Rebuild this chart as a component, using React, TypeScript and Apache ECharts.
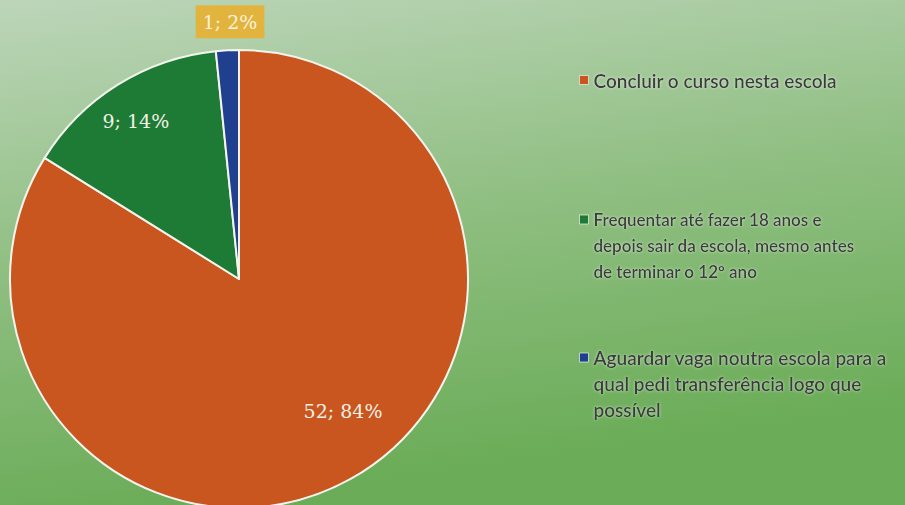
import React, { useEffect, useRef } from "react";
import * as echarts from "echarts";

const categories = [
  "Concluir o curso nesta escola",
  "Frequentar até fazer 18 anos e depois sair da escola, mesmo antes de terminar o 12º ano",
  "Aguardar vaga noutra escola para a qual pedi transferência logo que possível",
];
const legendLabels = [
  "Concluir o curso nesta escola",
  "Frequentar até fazer 18 anos e\ndepois sair da escola, mesmo antes\nde terminar o 12º ano",
  "Aguardar vaga noutra escola para a\nqual pedi transferência logo que\npossível",
];
const values = [52, 9, 1];
const colors = ["#C9551F", "#1E7B35", "#213F8F"];
const legendTops = [67, 206, 344];
const legendLines = [1, 3, 3];
const legendFontSizes = [19, 17, 19];
const labelShift = [
  [47, 29],
  [-41, -58],
  [-3, -140],
];

export default function App() {
  const ref = useRef<HTMLDivElement>(null);
  useEffect(() => {
    if (!ref.current) return;
    const chart = echarts.init(ref.current, null, { renderer: "svg" });
    const lh = 26;
    const iconFor = (lines: number) => {
      const h = lines * lh;
      const y0 = lh / 2 - 4.5;
      return `path://M0,0L0.01,0M0,${y0}H9V${y0 + 9}H0ZM0,${h}L0.01,${h}`;
    };
    chart.setOption({
      animation: false,
      backgroundColor: new echarts.graphic.LinearGradient(0, 0, 0.25, 1, [
        { offset: 0, color: "#BCD5B9" },
        { offset: 0.5, color: "#90BF82" },
        { offset: 1, color: "#6AAC57" },
      ]),
      legend: categories.map((c, i) => ({
        orient: "vertical",
        left: 579,
        top: legendTops[i],
        padding: 0,
        icon: legendLines[i] > 1 ? iconFor(legendLines[i]) : "rect",
        itemWidth: 9,
        itemHeight: legendLines[i] > 1 ? legendLines[i] * lh : 9,
        itemStyle: { borderColor: "rgba(240,245,235,0.7)", borderWidth: 1 },
        selectedMode: false,
        formatter: () => legendLabels[i],
        data: [c],
        textStyle: {
          fontFamily: "Lato",
          fontSize: legendFontSizes[i],
          fontWeight: 600,
          color: "#3A3A3A",
          lineHeight: lh,
          textShadowColor: "rgba(255,255,255,0.6)",
          textShadowBlur: 3,
        },
      })),
      series: [
        {
          type: "pie",
          radius: 229,
          center: [239, 279],
          startAngle: 90,
          clockwise: true,
          percentPrecision: 0,
          itemStyle: { borderColor: "#F4F4EE", borderWidth: 2 },
          label: {
            show: true,
            position: "inside",
            formatter: "{c}; {d}%",
            fontFamily: "DejaVu Serif",
            fontSize: 19,
            color: "#F3F1E6",
          },
          labelLayout: (p: any) => ({
            dx: labelShift[p.dataIndex][0],
            dy: labelShift[p.dataIndex][1],
          }),
          data: categories.map((c, i) => ({
            name: c,
            value: values[i],
            itemStyle: { color: colors[i] },
            label:
              i === 2
                ? {
                    backgroundColor: "#E2B43E",
                    padding: [8, 7, 6, 7],
                    color: "#F8F2DC",
                  }
                : undefined,
          })),
        },
      ],
    });
    return () => chart.dispose();
  }, []);
  return (
    <div
      ref={ref}
      style={{ position: "fixed", left: 0, top: 0, width: 905, height: 505 }}
    />
  );
}
